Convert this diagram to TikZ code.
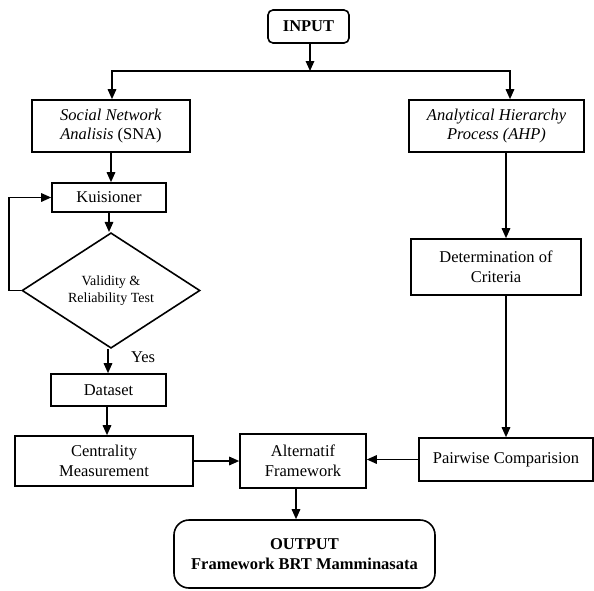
\documentclass[tikz,border=0pt]{standalone}
\usepackage{fontspec}
\setmainfont{Liberation Serif}
\usetikzlibrary{arrows.meta,shapes.geometric,calc}

\tikzset{
  line/.style={line width=1.6pt, draw=black},
  arr/.style={line, -{Triangle[length=10pt,width=8.5pt]}},
  box/.style={line, rectangle, align=center, inner sep=2pt,
    font=\fontsize{16.5}{19.5}\selectfont},
  roundbox/.style={box, rounded corners=#1},
  decision/.style={line, diamond, align=center, inner sep=0pt,
    font=\fontsize{14}{17}\selectfont},
}

\begin{document}
\begin{tikzpicture}[x=1pt, y=-1pt]
  \useasboundingbox (0,0) rectangle (594,590);

  % input and the two method branches
  \node[roundbox=5pt, minimum width=81pt, minimum height=33pt] (in) at (308.5,26.5) {\textbf{INPUT}};
  \node[box, minimum width=158pt, minimum height=52pt] (sna) at (111,126)
    {\textit{Social Network}\\\textit{Analisis} (SNA)};
  \node[box, minimum width=175pt, minimum height=52pt] (ahp) at (496.5,126)
    {\textit{Analytical Hierarchy}\\\textit{Process (AHP)}};

  % SNA branch
  \node[box, minimum width=114pt, minimum height=29pt] (kui) at (109,197.5) {Kuisioner};
  \node[decision, minimum width=178pt, minimum height=103pt] (dia) at (111,290.5)
    {Validity \&\\Reliability Test};
  \node[box, minimum width=115pt, minimum height=32pt] (ds) at (108.5,390) {Dataset};
  \node[box, minimum width=178pt, minimum height=50pt] (cen) at (104,461)
    {Centrality\\Measurement};

  % AHP branch
  \node[box, minimum width=170pt, minimum height=56pt] (det) at (496,267)
    {Determination of\\Criteria};
  \node[box, minimum width=174pt, minimum height=43pt] (pw) at (506,459.5)
    {Pairwise Comparision};

  % merge and output
  \node[box, minimum width=126pt, minimum height=54pt] (alt) at (303,461)
    {Alternatif\\Framework};
  \node[roundbox=15pt, minimum width=261pt, minimum height=68pt] (out) at (304.5,554)
    {\textbf{OUTPUT}\\\textbf{Framework BRT Mamminasata}};

  % split below the input
  \coordinate (split) at (310,71);
  \draw[arr] (in.south -| split) -- (split);
  \draw[arr] (split) -| ([xshift=1pt]sna.north);
  \draw[arr] (split) -| ([xshift=13.5pt]ahp.north);

  % SNA flow with the re-test loop
  \draw[arr] (sna.south) -- (sna.south |- kui.north);
  \draw[arr] (kui.south) -- (kui.south |- dia.north);
  \draw[arr] (dia.west) -- ++(-12,0) |- (kui.west);
  \draw[arr] ([xshift=-3pt]dia.south) -- ([xshift=-3pt]dia.south |- ds.north)
    node[pos=0.35, right=19pt, font=\fontsize{16.5}{19.5}\selectfont] {Yes};
  \draw[arr] ([xshift=-1.5pt]ds.south) -- ([xshift=-1.5pt]ds.south |- cen.north);

  % AHP flow
  \draw[arr] (pw.north |- ahp.south) -- (pw.north |- det.north);
  \draw[arr] (pw.north |- det.south) -- (pw.north);

  % into the alternative framework and on to the output
  \draw[arr] (cen.east) -- (cen.east -| alt.west);
  \draw[arr] (pw.west) -- (pw.west -| alt.east);
  \draw[arr] ([xshift=-7pt]alt.south) -- ([xshift=-7pt]alt.south |- out.north);
\end{tikzpicture}
\end{document}
